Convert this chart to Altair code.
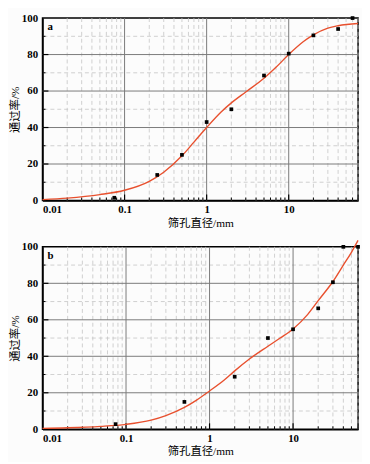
import altair as alt
import pandas as pd

# ---- data ----
a_pts_x = [0.075, 0.25, 0.5, 1, 2, 5, 10, 20, 40, 60]
a_pts_y = [1.5, 14, 25, 43, 50, 68.5, 80.5, 90.5, 94, 100]
a_fit_x = [0.01, 0.02, 0.05, 0.1, 0.2, 0.3, 0.5, 0.7, 1, 1.5, 2, 3, 5, 7, 10, 15, 20, 30, 40, 70]
a_fit_y = [0.5, 1.3, 3.2, 5.6, 10.5, 15.5, 24.5, 32, 40, 48.5, 53.5, 59.5, 67, 73, 80, 87, 90.8, 94.5, 95.8, 97]

b_pts_x = [0.075, 0.5, 2, 5, 10, 20, 30, 40, 60]
b_pts_y = [2.8, 15, 28.8, 50, 54.8, 66.3, 80.6, 100, 100]
b_fit_x = [0.01, 0.02, 0.05, 0.1, 0.2, 0.3, 0.5, 0.7, 1, 1.5, 2, 3, 5, 7, 10, 15, 20, 30, 40, 50, 60]
b_fit_y = [0.5, 0.8, 1.6, 2.7, 5, 7.5, 12, 16, 21, 27, 32, 38.5, 45.5, 50, 55, 63, 70.5, 81, 90, 97, 103.5]

major_x_labels = [0.01, 0.1, 1, 10]
y_ticks = [0, 20, 40, 60, 80, 100]
minor_y = [10, 30, 50, 70, 90]

W, H = 320, 185
FONT = "Liberation Serif, Noto Sans CJK SC"
RED = "#e8502e"


def minor_x_vals(xmax):
    vals = []
    for d in [0.01, 0.1, 1, 10]:
        for m in range(2, 10):
            v = round(d * m, 4)
            if v <= xmax:
                vals.append(v)
    return vals


def panel(px, py, fx, fy, xmax, letter):
    xs = alt.Scale(type="log", domain=[0.01, xmax], nice=False)
    ys = alt.Scale(domain=[0, 100], nice=False)
    xa = alt.Axis(values=major_x_labels, format="~g", title="筛孔直径/mm",
                  grid=False, ticks=False, domainColor="black", domainWidth=1.5,
                  labelPadding=3, titlePadding=3)
    ya = alt.Axis(values=y_ticks, title="通过率/%", grid=False, ticks=False,
                  domainColor="black", domainWidth=1.5, labelPadding=5, titlePadding=1)

    X = lambda f="x": alt.X(f"{f}:Q", scale=xs, axis=xa)
    Y = lambda f="y": alt.Y(f"{f}:Q", scale=ys, axis=ya)

    mx = pd.DataFrame({"x": minor_x_vals(xmax)})
    Mx = pd.DataFrame({"x": [v for v in major_x_labels if v > 0.01]})
    my = pd.DataFrame({"y": minor_y})
    My = pd.DataFrame({"y": [20, 40, 60, 80]})

    grid_minor_x = alt.Chart(mx).mark_rule(color="#c4c4c4", strokeDash=[4, 3], strokeWidth=0.8).encode(x=X())
    grid_minor_y = alt.Chart(my).mark_rule(color="#c4c4c4", strokeDash=[4, 3], strokeWidth=0.8).encode(y=Y())
    grid_major_x = alt.Chart(Mx).mark_rule(color="#7a7a7a", strokeWidth=1).encode(x=X())
    grid_major_y = alt.Chart(My).mark_rule(color="#7a7a7a", strokeWidth=1).encode(y=Y())

    tick_minor_x = alt.Chart(mx).mark_rule(color="black", strokeWidth=1).encode(
        x=X(), y=alt.value(H), y2=alt.value(H - 3))
    tick_major_x = alt.Chart(Mx).mark_rule(color="black", strokeWidth=1.2).encode(
        x=X(), y=alt.value(H), y2=alt.value(H - 6))
    tick_minor_y = alt.Chart(my).mark_rule(color="black", strokeWidth=1).encode(
        y=Y(), x=alt.value(0), x2=alt.value(3))
    tick_major_y = alt.Chart(My).mark_rule(color="black", strokeWidth=1.2).encode(
        y=Y(), x=alt.value(0), x2=alt.value(6))

    fit = pd.DataFrame({"x": fx, "y": fy})
    pts = pd.DataFrame({"x": px, "y": py})
    line = alt.Chart(fit).mark_line(color=RED, strokeWidth=1.4, interpolate="monotone").encode(x=X(), y=Y())
    points = alt.Chart(pts).mark_square(color="black", size=14, opacity=1).encode(x=X(), y=Y())
    lab = alt.Chart(pd.DataFrame({"t": [letter]})).mark_text(
        font="Liberation Serif", fontWeight="bold", fontSize=11, align="left", baseline="top", color="black"
    ).encode(text="t:N", x=alt.value(5), y=alt.value(3))

    return alt.layer(grid_minor_x, grid_minor_y, grid_major_x, grid_major_y,
                     tick_minor_x, tick_major_x, tick_minor_y, tick_major_y,
                     line, points, lab).properties(width=W, height=H)


top = panel(a_pts_x, a_pts_y, a_fit_x, a_fit_y, 70, "a")
bot = panel(b_pts_x, b_pts_y, b_fit_x, b_fit_y, 60, "b")

chart = alt.vconcat(top, bot, spacing=6).properties(
    padding={"left": 0, "top": 0, "right": 0, "bottom": 0},
    background="#fcfcfc",
).configure_view(stroke="black", strokeWidth=1.5).configure_axis(
    labelFont="Liberation Serif", labelFontWeight="bold", labelFontSize=11, labelColor="black",
    titleFont=FONT, titleFontWeight="normal", titleFontSize=11.5, titleColor="black"
)

chart.save("out.html", embed_options={"renderer": "svg", "actions": False})
